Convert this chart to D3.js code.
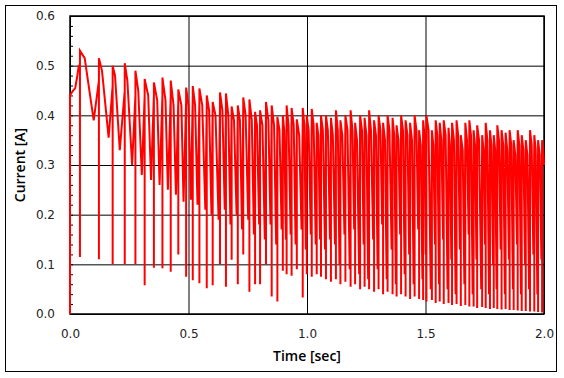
<!DOCTYPE html>
<html>
<head>
<meta charset="utf-8">
<script src="https://cdn.jsdelivr.net/npm/d3@7"></script>
<style>
  body { margin: 0; background: #fff; }
  text { font-family: "DejaVu Sans", Verdana, sans-serif; }
</style>
</head>
<body>
<svg id="chart" width="564" height="378"></svg>
<script>
// lead-in before the first spike
const leadT = [0, 0, 0.010, 0.022, 0.031, 0.037];
const leadA = [0, 0.44, 0.448, 0.455, 0.48, 0.50];

// one entry per spike: time, value just before, bottom of spike, top after,
// end of the top part (knee), bottom of the dip that follows
const spikeT = [0.042,0.122,0.180,0.231,0.276,0.315,0.354,0.390,0.425,0.457,0.490,0.518,0.546,0.577,0.602,0.633,0.658,0.682,0.708,0.731,0.757,0.781,0.802,0.827,0.851,0.875,0.898,0.914,0.935,0.957,0.982,0.999,1.020,1.041,1.059,1.080,1.101,1.122,1.141,1.162,1.184,1.203,1.224,1.243,1.262,1.283,1.302,1.321,1.340,1.361,1.378,1.397,1.416,1.435,1.454,1.473,1.490,1.504,1.527,1.543,1.560,1.577,1.597,1.612,1.631,1.649,1.668,1.685,1.703,1.718,1.739,1.754,1.772,1.788,1.803,1.821,1.838,1.855,1.872,1.889,1.906,1.923,1.941,1.959,1.975,1.992];
const preA   = [0.50,0.47,0.46,0.45,0.44,0.44,0.44,0.44,0.44,0.43,0.43,0.44,0.43,0.42,0.42,0.43,0.42,0.41,0.41,0.42,0.41,0.40,0.40,0.41,0.40,0.39,0.39,0.40,0.40,0.38,0.39,0.39,0.40,0.38,0.39,0.39,0.38,0.39,0.38,0.39,0.38,0.37,0.39,0.38,0.37,0.38,0.39,0.37,0.38,0.39,0.37,0.38,0.38,0.37,0.39,0.36,0.38,0.39,0.36,0.38,0.37,0.38,0.36,0.37,0.38,0.35,0.37,0.38,0.36,0.37,0.35,0.37,0.36,0.35,0.37,0.36,0.35,0.36,0.34,0.36,0.35,0.34,0.36,0.35,0.34,0.35];
const lowA   = [0.115,0.11,0.10,0.10,0.10,0.058,0.093,0.092,0.085,0.12,0.075,0.068,0.062,0.052,0.058,0.10,0.055,0.109,0.06,0.12,0.045,0.06,0.06,0.10,0.035,0.025,0.087,0.08,0.077,0.09,0.033,0.08,0.075,0.08,0.075,0.07,0.065,0.07,0.06,0.065,0.055,0.06,0.05,0.055,0.05,0.045,0.05,0.04,0.045,0.04,0.035,0.04,0.035,0.03,0.035,0.03,0.028,0.025,0.028,0.022,0.025,0.02,0.022,0.018,0.02,0.016,0.018,0.015,0.015,0.012,0.014,0.012,0.01,0.012,0.01,0.009,0.01,0.008,0.008,0.007,0.006,0.006,0.005,0.005,0.004,0.003];
const peakA  = [0.53,0.515,0.50,0.505,0.49,0.473,0.466,0.476,0.47,0.452,0.456,0.459,0.454,0.44,0.427,0.446,0.444,0.418,0.42,0.436,0.432,0.407,0.41,0.427,0.42,0.397,0.40,0.42,0.415,0.392,0.415,0.40,0.413,0.385,0.40,0.40,0.395,0.41,0.39,0.40,0.41,0.385,0.40,0.395,0.41,0.39,0.40,0.385,0.40,0.395,0.38,0.40,0.39,0.385,0.40,0.37,0.39,0.40,0.37,0.39,0.385,0.39,0.375,0.385,0.39,0.36,0.385,0.39,0.37,0.38,0.36,0.385,0.37,0.36,0.38,0.37,0.365,0.37,0.35,0.37,0.36,0.35,0.37,0.36,0.35,0.35];
const kneeT  = [0.062,0.135,0.190,0.242,0.288,0.330,0.368,0.403,0.437,0.470,0.500,0.528,0.558,0.587,0.614,0.643,0.668,0.692,0.717,0.741,0.767,0.789,0.812,0.837,0.861,0.884,0.904,0.922,0.944,0.967,0.989,1.007,1.028,1.048,1.067,1.088,1.109,1.130,1.149,1.171,1.192,1.211,1.232,1.251,1.270,1.291,1.310,1.329,1.348,1.368,1.386,1.405,1.424,1.443,1.462,1.480,1.496,1.513,1.533,1.550,1.567,1.585,1.603,1.620,1.638,1.657,1.675,1.692,1.709,1.726,1.745,1.761,1.778,1.794,1.810,1.828,1.845,1.862,1.879,1.896,1.913,1.930,1.948,1.965,1.982,1.997];
const kneeA  = [0.515,0.49,0.48,0.47,0.45,0.44,0.43,0.43,0.42,0.42,0.42,0.42,0.42,0.41,0.40,0.41,0.40,0.39,0.39,0.40,0.39,0.38,0.38,0.39,0.38,0.37,0.37,0.38,0.38,0.36,0.38,0.37,0.38,0.36,0.37,0.37,0.36,0.37,0.36,0.37,0.37,0.35,0.37,0.36,0.37,0.36,0.37,0.35,0.37,0.36,0.35,0.37,0.36,0.35,0.37,0.34,0.36,0.37,0.34,0.36,0.35,0.36,0.34,0.35,0.36,0.33,0.35,0.36,0.34,0.35,0.33,0.35,0.34,0.33,0.35,0.34,0.33,0.34,0.32,0.34,0.33,0.32,0.34,0.33,0.32,0.33];
const dipT   = [0.100,0.163,0.210,0.262,0.303,0.342,0.378,0.413,0.447,0.479,0.510,0.538,0.571,0.597,0.627,0.653,0.677,0.703,0.726,0.752,0.776,0.798,0.822,0.846,0.870,0.893,0.911,0.931,0.952,0.977,0.995,1.016,1.037,1.055,1.076,1.097,1.118,1.137,1.158,1.180,1.199,1.220,1.239,1.258,1.279,1.298,1.317,1.336,1.357,1.375,1.393,1.412,1.431,1.450,1.469,1.487,1.501,1.522,1.540,1.557,1.574,1.593,1.609,1.627,1.645,1.664,1.682,1.699,1.715,1.735,1.751,1.768,1.785,1.800,1.817,1.835,1.852,1.869,1.886,1.903,1.920,1.937,1.955,1.972,1.989,2.000];
const dipA   = [0.39,0.355,0.33,0.30,0.28,0.27,0.26,0.25,0.24,0.226,0.23,0.22,0.21,0.20,0.19,0.21,0.18,0.20,0.17,0.19,0.16,0.18,0.15,0.18,0.14,0.17,0.15,0.16,0.14,0.17,0.13,0.16,0.14,0.15,0.13,0.15,0.14,0.10,0.16,0.09,0.17,0.08,0.14,0.07,0.15,0.09,0.18,0.07,0.13,0.06,0.16,0.08,0.12,0.06,0.17,0.07,0.12,0.05,0.14,0.06,0.15,0.05,0.11,0.04,0.13,0.06,0.16,0.04,0.11,0.05,0.14,0.04,0.10,0.05,0.13,0.04,0.11,0.05,0.14,0.04,0.10,0.05,0.12,0.04,0.11,0.30];

const xTicks = [0, 0.5, 1.0, 1.5, 2.0];
const yTicks = [0, 0.1, 0.2, 0.3, 0.4, 0.5, 0.6];
const yMinor = d3.range(0, 0.6001, 0.02);

const svg = d3.select("#chart");
const plot = { left: 70, right: 544, top: 16, bottom: 314 };

const x = d3.scaleLinear().domain([0, 2]).range([plot.left, plot.right]);
const y = d3.scaleLinear().domain([0, 0.6]).range([plot.bottom, plot.top]);

// outer frame
svg.append("rect")
  .attr("x", 5.5).attr("y", 5.5).attr("width", 551).attr("height", 366)
  .attr("fill", "none").attr("stroke", "#000").attr("stroke-width", 1);

// grid
svg.append("g")
  .attr("transform", `translate(0,${plot.bottom})`)
  .call(d3.axisBottom(x).tickValues(xTicks).tickSize(-(plot.bottom - plot.top)).tickFormat(""))
  .call(g => g.select(".domain").remove())
  .selectAll(".tick line").attr("stroke", "#000");

svg.append("g")
  .attr("transform", `translate(${plot.left},0)`)
  .call(d3.axisLeft(y).tickValues(yTicks).tickSize(-(plot.right - plot.left)).tickFormat(""))
  .call(g => g.select(".domain").remove())
  .selectAll(".tick line").attr("stroke", "#000");

// minor ticks inside left axis
svg.append("g")
  .attr("transform", `translate(${plot.left},0)`)
  .call(d3.axisLeft(y).tickValues(yMinor).tickSize(-3).tickFormat(""))
  .call(g => g.select(".domain").remove())
  .selectAll(".tick line").attr("stroke", "#000");

// plot frame
svg.append("rect")
  .attr("x", plot.left).attr("y", plot.top)
  .attr("width", plot.right - plot.left).attr("height", plot.bottom - plot.top)
  .attr("fill", "none").attr("stroke", "#000").attr("stroke-width", 1.5);

// tick labels
svg.append("g")
  .attr("transform", `translate(0,${plot.bottom})`)
  .call(d3.axisBottom(x).tickValues(xTicks).tickSize(0).tickPadding(15).tickFormat(d3.format(".1f")))
  .call(g => g.select(".domain").remove())
  .selectAll("text").attr("font-size", 12).attr("fill", "#222")
  .style("font-family", "DejaVu Sans");

svg.append("g")
  .attr("transform", `translate(${plot.left},0)`)
  .call(d3.axisLeft(y).tickValues(yTicks).tickSize(0).tickPadding(15).tickFormat(d3.format(".1f")))
  .call(g => g.select(".domain").remove())
  .selectAll("text").attr("font-size", 12).attr("fill", "#222")
  .style("font-family", "DejaVu Sans");

// the trace
const pts = leadT.map((t, i) => [t, leadA[i]]);
spikeT.forEach((t, i) => {
  pts.push([t, preA[i]], [t, lowA[i]], [t, peakA[i]], [kneeT[i], kneeA[i]], [dipT[i], dipA[i]]);
});

svg.append("path")
  .datum(pts)
  .attr("fill", "none")
  .attr("stroke", "#ff0000")
  .attr("stroke-width", 2)
  .attr("d", d3.line().x(d => x(d[0])).y(d => y(d[1])));

// axis titles
svg.append("text")
  .attr("x", (plot.left + plot.right) / 2).attr("y", 361)
  .attr("text-anchor", "middle")
  .attr("font-size", 14).attr("font-weight", 600)
  .style("font-family", "Open Sans")
  .text("Time [sec]");

svg.append("text")
  .attr("transform", `translate(25,${(plot.top + plot.bottom) / 2}) rotate(-90)`)
  .attr("text-anchor", "middle")
  .attr("font-size", 14).attr("font-weight", 600)
  .style("font-family", "Open Sans")
  .text("Current [A]");
</script>
</body>
</html>
